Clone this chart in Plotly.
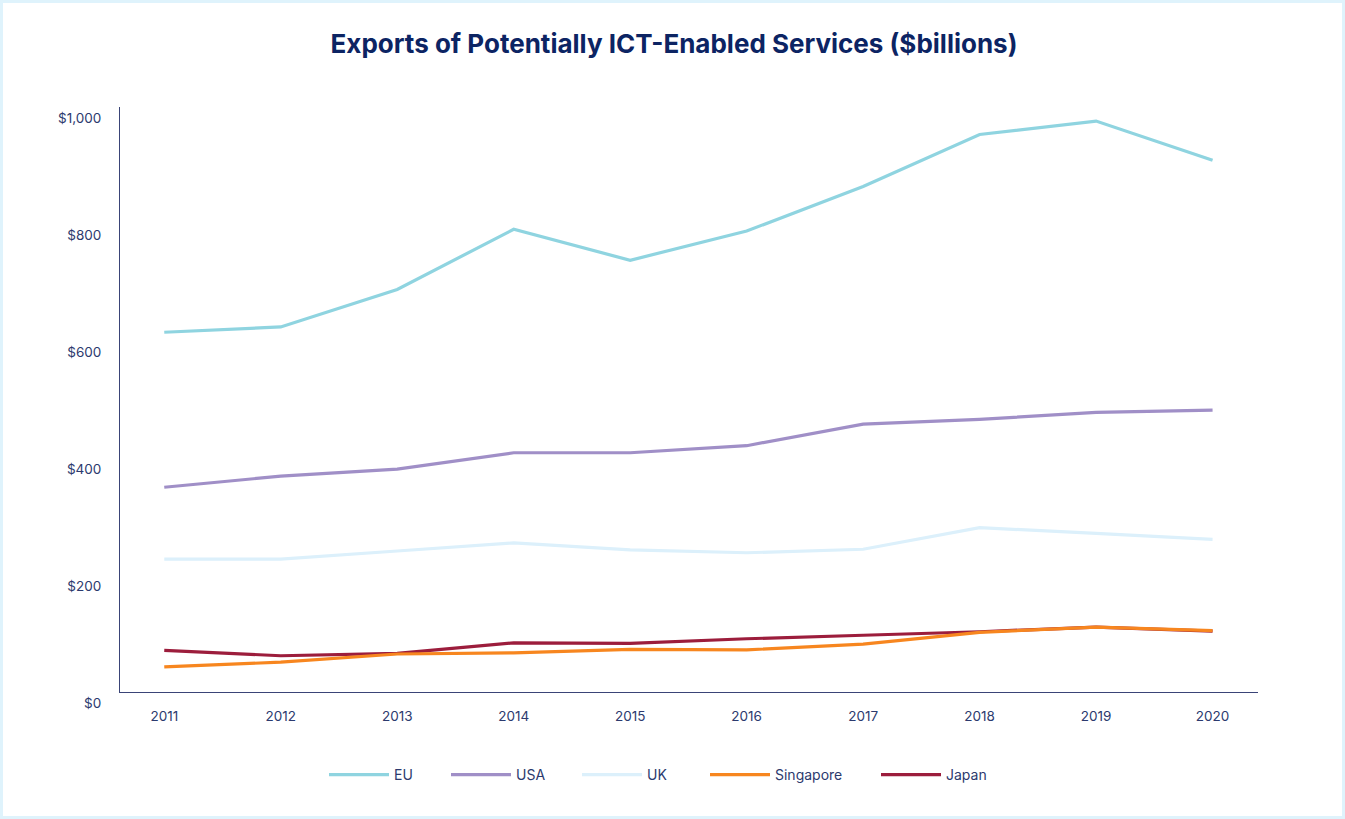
import plotly.graph_objects as go

years = [2011, 2012, 2013, 2014, 2015, 2016, 2017, 2018, 2019, 2020]
eu = [615, 624, 688, 791, 738, 788, 864, 953, 976, 909]
usa = [350, 369, 381, 409, 409, 421, 458, 466, 478, 482]
uk = [227, 227, 241, 255, 243, 238, 244, 281, 271, 261]
singapore = [43, 51, 65, 67, 73, 72, 82, 102, 111, 105]
japan = [71, 62, 66, 84, 83, 91, 97, 103, 111, 104]

y_tickvals = [0, 200, 400, 600, 800, 1000]
y_ticktext = ["$0", "$200", "$400", "$600", "$800", "$1,000"]

# name, values, colour, legend rank, legend entry width
series = [
    ("EU", eu, "#8fd4e0", 1, 47),
    ("USA", usa, "#a08fc7", 2, 56),
    ("UK", uk, "#dcf0fb", 3, 53),
    ("Japan", japan, "#9c1d3c", 5, 45),
    ("Singapore", singapore, "#f7861f", 4, 96),
]

W, H = 1345, 819
L, R, T, B = 120, 87, 107, 127

fig = go.Figure()
for name, vals, color, rank, lw in series:
    fig.add_trace(go.Scatter(
        x=years, y=vals, name=name, mode="lines",
        line=dict(color=color, width=3.2),
        legendrank=rank, legendwidth=lw,
    ))

navy = "#2c3a6e"
fig.update_layout(
    width=W, height=H,
    margin=dict(l=L, r=R, t=T, b=B),
    paper_bgcolor="white", plot_bgcolor="white",
    font=dict(family="Inter, Roboto, sans-serif", color=navy, size=13),
    title=dict(
        text="<b>Exports of Potentially ICT-Enabled Services ($billions)</b>",
        x=(674 / W), xanchor="center", y=1 - 44 / H, yanchor="middle",
        font=dict(family="Inter, sans-serif", size=26, color="#0c2463"),
    ),
    xaxis=dict(
        range=[2010.62, 2020.39], tickvals=years, ticktext=[str(y) for y in years],
        showgrid=False, zeroline=False, showline=True, linecolor="#3a4477", linewidth=1,
        ticks="", ticklabelstandoff=12, tickfont=dict(size=13.5, color=navy),
        fixedrange=True,
    ),
    yaxis=dict(
        range=[0, 1000], tickvals=y_tickvals, ticktext=y_ticktext,
        showgrid=False, zeroline=False, showline=True, linecolor="#3a4477", linewidth=1,
        ticks="", ticklabelstandoff=15, ticklabelshift=11,
        tickfont=dict(size=13.5, color=navy), fixedrange=True,
    ),
    legend=dict(
        orientation="h", x=(324 - L) / (W - L - R), xanchor="left",
        y=-(775 - (H - B)) / (H - T - B), yanchor="middle",
        font=dict(size=14, color=navy), itemwidth=60, traceorder="normal",
    ),
    showlegend=True,
    shapes=[dict(
        type="rect", xref="paper", yref="paper",
        x0=-(L - 1.5) / (W - L - R), x1=1 + (R - 1.5) / (W - L - R),
        y0=-(B - 1.5) / (H - T - B), y1=1 + (T - 1.5) / (H - T - B),
        line=dict(color="#dff3fc", width=3), fillcolor="rgba(0,0,0,0)", layer="below",
    )],
)

fig.write_html(
    "out.html",
    config={"displayModeBar": False},
    post_script="document.body.style.margin='0';document.body.style.overflow='hidden';",
)
